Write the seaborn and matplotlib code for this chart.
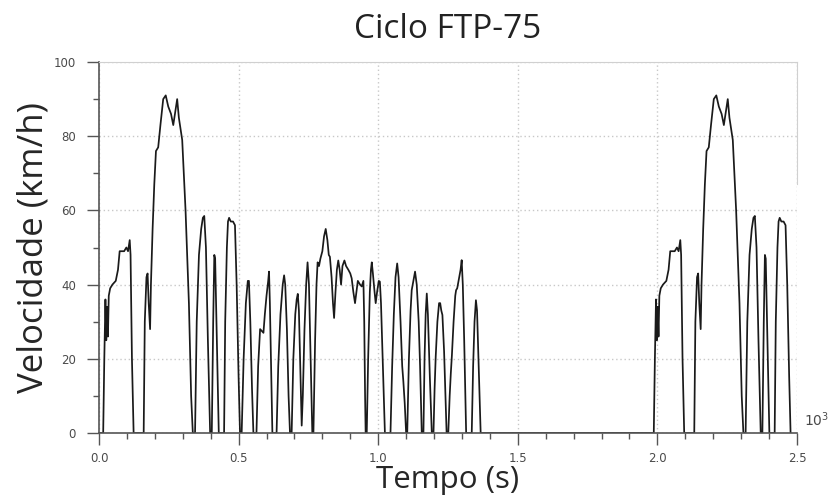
import matplotlib
matplotlib.use("Agg")
import matplotlib.pyplot as plt
import seaborn as sns
import pandas as pd
from matplotlib.ticker import MultipleLocator

# ---- data (time in s, speed in km/h) ----
# Phase 1: cold-start transient
t_phase1 = [0, 15, 19, 23, 26, 29, 32, 35, 40, 48, 60, 68, 74, 90, 98, 104, 110, 113, 118, 124,
            160, 164, 170, 174, 178, 183, 186, 192, 198, 204, 212, 220, 230, 239, 248, 258, 266, 272, 280, 286, 298, 310, 322, 330, 336,
            344, 350, 358, 366, 372, 377, 383, 390, 398,
            404, 409, 413, 416, 422, 429,
            448, 452, 458, 462, 466, 472, 480, 487, 493, 500, 505]
v_phase1 = [0, 0, 20, 36, 25, 34, 26, 37, 39, 40, 41, 44, 49, 49, 50, 49, 52, 48, 20, 0,
            0, 30, 42, 43, 35, 28, 40, 55, 67, 76, 77, 83, 90, 91, 88, 86, 83, 86, 90, 85, 79, 60, 35, 10, 0,
            0, 30, 48, 55, 58, 58.5, 50, 25, 0,
            0, 30, 48, 47, 25, 0,
            0, 30, 50, 57, 58, 57, 57, 56, 40, 15, 0]

# Phase 2: stabilized
t_phase2 = [511, 518, 526, 533, 537, 542, 548, 553,
            564, 570, 577, 583, 589, 594, 600, 606, 609, 612, 617, 621,
            636, 642, 650, 658, 663, 667, 673, 679, 684,
            690, 696, 703, 708, 712, 716, 721, 726,
            730, 736, 742, 747, 752, 758, 764,
            768, 774, 779, 783, 788, 793, 800, 806, 812, 818, 823, 827, 833, 838, 842, 847, 852, 857, 862, 867,
            872, 879, 885, 893, 900, 905, 911, 917, 922, 927, 935, 941, 947, 950, 953, 955,
            959, 964, 970, 974, 977, 981, 987, 991, 996, 1002, 1006, 1010, 1016, 1024,
            1044, 1050, 1056, 1062, 1068, 1073, 1080, 1086, 1090, 1095, 1100,
            1104, 1110, 1116, 1120, 1126, 1132, 1138, 1145, 1150, 1156,
            1162, 1166, 1170, 1174, 1178, 1185, 1192,
            1198, 1202, 1206, 1212, 1218, 1222, 1226, 1230, 1236, 1241, 1245,
            1251, 1256, 1260, 1264, 1270, 1276, 1279, 1283, 1290, 1295, 1299, 1303, 1308, 1315,
            1335, 1340, 1345, 1350, 1354, 1359, 1367]
v_phase2 = [0, 20, 35, 41, 41, 30, 12, 0,
            0, 18, 28, 27.5, 27, 32, 37, 41, 43.5, 35, 15, 0,
            0, 18, 32, 40, 42.5, 40, 28, 10, 0,
            0, 20, 32, 36, 37.5, 33, 18, 2,
            10, 28, 40, 46, 40, 20, 0,
            0, 25, 40, 46, 45, 47, 49, 53, 55, 52, 48, 47.5, 42, 35, 31, 38, 44, 46.5, 44, 40,
            45, 46.5, 45, 44, 43, 41.7, 38, 35, 38, 41, 40, 39.5, 41, 30, 10, 0,
            0, 20, 38, 44, 46, 43, 38, 35, 38, 41, 40.8, 35, 20, 0,
            0, 18, 32, 42, 45.7, 42, 30, 18, 14, 8, 0,
            0, 20, 33, 38.5, 41, 43.5, 40, 30, 18, 0,
            0, 20, 32, 37.6, 32, 15, 0,
            0, 12, 20.6, 30, 35, 35, 33, 31.8, 22, 10, 0,
            0, 10, 16, 21, 30, 37, 38.5, 39, 42, 44, 46.6, 40, 25, 0,
            0, 18, 30, 35.8, 33, 20, 0]

# Phase 3: hot-start transient (after 10 min soak)
t_phase3 = [1972, 1987, 1991, 1995, 1998, 2001, 2004, 2007, 2012, 2020, 2032, 2040, 2046, 2062, 2070, 2076, 2082, 2085, 2090, 2096,
            2132, 2136, 2142, 2146, 2150, 2155, 2158, 2164, 2170, 2176, 2184, 2192, 2202, 2211, 2220, 2230, 2238, 2244, 2252, 2258, 2270, 2282, 2294, 2302, 2308,
            2316, 2322, 2330, 2338, 2344, 2349, 2355, 2362, 2370,
            2376, 2381, 2385, 2388, 2394, 2401,
            2420, 2424, 2430, 2434, 2438, 2444, 2452, 2459, 2465, 2472, 2477]
v_phase3 = [0, 0, 20, 36, 25, 34, 26, 37, 39, 40, 41, 44, 49, 49, 50, 49, 52, 48, 20, 0,
            0, 30, 42, 43, 35, 28, 40, 55, 67, 76, 77, 83, 90, 91, 88, 86, 83, 86, 90, 85, 79, 60, 35, 10, 0,
            0, 30, 48, 55, 58, 58.5, 50, 25, 0,
            0, 30, 48, 47, 25, 0,
            0, 30, 50, 57, 58, 57, 57, 56, 40, 15, 0]

x_ticks = [0.0, 0.5, 1.0, 1.5, 2.0, 2.5]
y_ticks = [0, 20, 40, 60, 80, 100]

df = pd.DataFrame({
    "tempo": [t / 1000.0 for t in (t_phase1 + t_phase2 + t_phase3)],
    "vel": v_phase1 + v_phase2 + v_phase3,
})

sns.set_style("white")
fig = plt.figure(figsize=(8.3, 5.0), dpi=100)
ax = fig.add_axes([99 / 830, 1 - 433 / 500, (797 - 99) / 830, (433 - 62) / 500])

sns.lineplot(data=df, x="tempo", y="vel", ax=ax, color="#1a1a1a", linewidth=1.25,
             sort=False, estimator=None)

ax.set_xlim(0, 2.5)
ax.set_ylim(0, 100)
ax.set_xticks(x_ticks)
ax.set_xticklabels([f"{v:.1f}" for v in x_ticks])
ax.set_yticks(y_ticks)
ax.xaxis.set_minor_locator(MultipleLocator(0.1))
ax.yaxis.set_minor_locator(MultipleLocator(10))
ax.tick_params(axis="both", which="major", direction="out", length=8.6, width=1.0,
               color="#555555", labelsize=8.5, labelcolor="#4a4a4a", bottom=True, left=True)
ax.tick_params(axis="both", which="minor", direction="out", length=4.5, width=1.0,
               color="#555555", bottom=True, left=True)
ax.tick_params(axis="x", which="major", pad=5)
ax.tick_params(axis="y", which="major", pad=8)

ax.grid(True, which="major", linestyle=(0, (1, 2)), color="#c8c8c8", linewidth=1.0)
for side in ["left", "bottom"]:
    ax.spines[side].set_color("#555555")
    ax.spines[side].set_linewidth(1.2)
ax.spines["top"].set_color("#d0d0d0")
ax.spines["right"].set_color("#d0d0d0")
ax.spines["right"].set_bounds(67, 100)

ax.set_xlabel("Tempo (s)", fontsize=22.5, family="Open Sans", labelpad=0)
ax.set_ylabel("Velocidade (km/h)", fontsize=25, family="Open Sans", labelpad=2)
ax.set_title("Ciclo FTP-75", fontsize=24, family="Open Sans", pad=17, color="#222222")
ax.text(1.01, 0.01, "10$^{3}$", transform=ax.transAxes, fontsize=10, color="#4a4a4a",
        ha="left", va="bottom")

fig.savefig("out.png", dpi=100)
